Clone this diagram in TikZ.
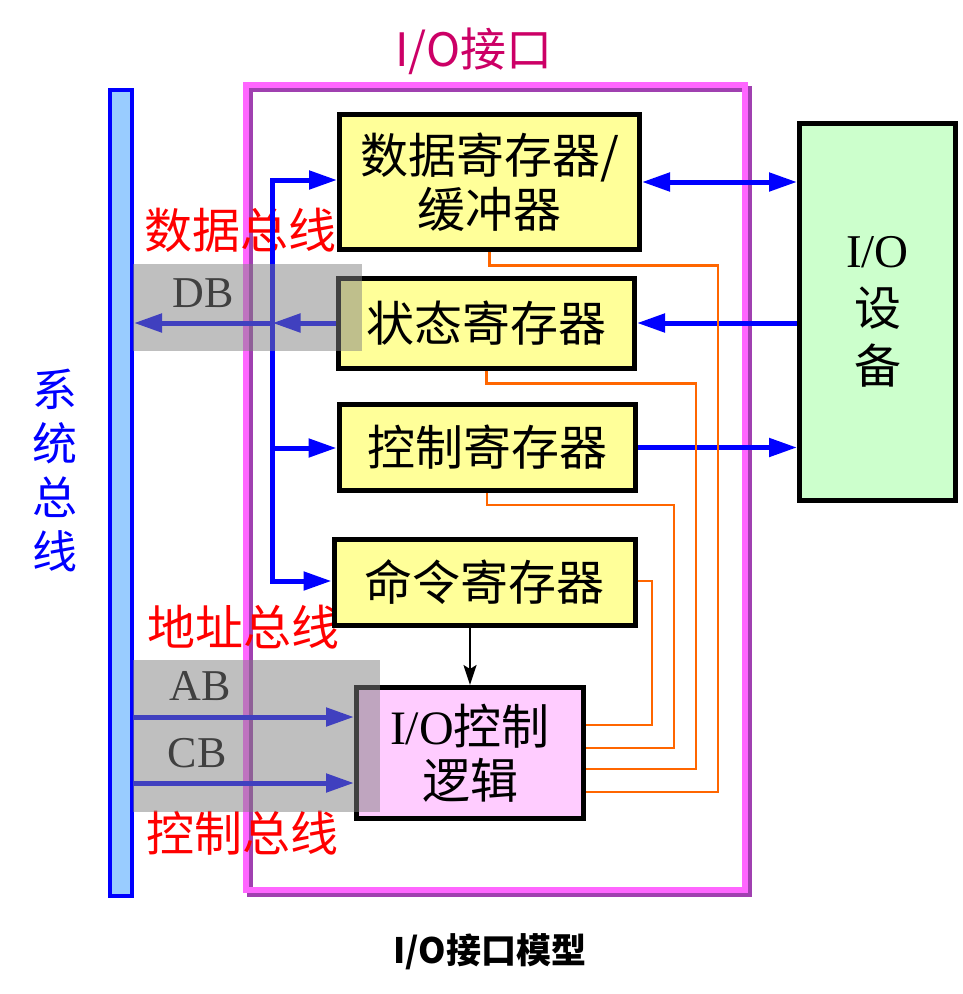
\documentclass[tikz,border=0pt]{standalone}
\usepackage{color}
\usepackage{fontspec}
\setmainfont{Liberation Serif}
\newfontfamily\zhfont{Noto Sans CJK SC}
\usepackage{tikz}
\usetikzlibrary{arrows.meta,positioning}
\definecolor{busblue}{HTML}{0000FF}
\definecolor{busfill}{HTML}{99CCFF}
\definecolor{regyellow}{HTML}{FFFF99}
\definecolor{logicpink}{HTML}{FFCCFF}
\definecolor{devgreen}{HTML}{CCFFCC}
\definecolor{framepink}{HTML}{FF66FF}
\definecolor{frameshade}{HTML}{A040B0}
\definecolor{titlered}{HTML}{CC0066}
\definecolor{sigorange}{HTML}{FF6600}
\tikzset
{
    regnode/.style   = {draw=black, line width=5pt, fill=regyellow, align=center, inner sep=0pt, font=\zhfont\fontsize{48}{54}\selectfont},
    devnode/.style   = {draw=black, line width=5pt, fill=devgreen, align=center, inner sep=0pt, font=\zhfont\fontsize{47}{58}\selectfont},
    busnode/.style   = {draw=busblue, line width=4pt, fill=busfill, inner sep=0pt},
    framenode/.style = {draw=framepink, line width=5.5pt, inner sep=0pt, minimum width=499pt, minimum height=805pt},
    shadenode/.style = {draw=frameshade, line width=5.5pt, inner sep=0pt, minimum width=499pt, minimum height=805pt},
    grayband/.style  = {fill=gray, fill opacity=0.5, inner sep=0pt},
    buslabel/.style  = {text=red, inner sep=0pt, font=\zhfont\fontsize{48}{48}\selectfont},
    busname/.style   = {inner sep=0pt, font=\fontsize{44}{44}\selectfont},
    datapath/.style  = {draw=busblue, line width=5pt, -{Triangle[length=28pt,width=18pt]}},
    cmdpath/.style   = {draw=black, line width=2pt, -{Stealth[length=20pt,width=13pt,inset=4pt]}},
    sigline/.style   = {draw=sigorange, line width=2.5pt}
}
\begin{document}
\begin{tikzpicture}[x=1pt,y=-1pt]
    \useasboundingbox (0,0) rectangle (963,994);
    \node [shadenode] (ifshade) at (499.5,491.5) {};
    \node [framenode] (iface) at (495.5,487.5) {};
    \node [text=titlered, font=\zhfont\fontsize{46}{46}\selectfont] (title) at (474,51) {I/O接口};
    \node [font=\zhfont\bfseries\fontsize{35}{35}\selectfont] (caption) at (490,952) {I/O接口模型};
    \node [busnode, minimum width=22pt, minimum height=806pt] (sysbus) at (121,493) {};
    \node [text=busblue, align=center, font=\zhfont\fontsize{45}{54}\selectfont] (busword) at (55,470) {系\\统\\总\\线};
    \node [buslabel] (dblabel) at (240,230) {数据总线};
    \node [buslabel] (ablabel) at (243,627) {地址总线};
    \node [buslabel] (cblabel) at (242,833) {控制总线};
    \node [busname] (dbname) at (203,293) {DB};
    \node [busname] (abname) at (200,686) {AB};
    \node [busname] (cbname) at (197,753) {CB};
    \coordinate (t1) at (272.5,180);
    \coordinate (t2) at (272.5,323);
    \coordinate (t3) at (272.5,448);
    \coordinate (t4) at (272.5,581);
    \coordinate (ab) at (133,717);
    \coordinate (cb) at (133,783);
    \node [regnode, minimum width=300pt, minimum height=135pt] (rdata) at (489.5,182) {数据寄存器/\\缓冲器};
    \node [regnode, minimum width=296pt, minimum height=90pt] (rstat) at (486.5,323) {状态寄存器};
    \node [regnode, minimum width=296pt, minimum height=86pt] (rctrl) at (487,447.5) {控制寄存器};
    \node [regnode, minimum width=301pt, minimum height=86pt] (rcmd) at (484.5,582.5) {命令寄存器};
    \node [regnode, fill=logicpink, minimum width=227pt, minimum height=131pt] (rlogic) at (470,753) {{\rmfamily I/O}控制\\逻辑};
    \node [devnode, minimum width=156pt, minimum height=377pt] (iodev) at (877.5,312) {{\rmfamily I/O}\\设\\备};
    \draw [datapath, {Triangle[length=28pt,width=18pt]}-{Triangle[length=28pt,width=18pt]}] (t1 -| rdata.west) -- (t1) -- (t4) -- (t4 -| rcmd.west);
    \draw [datapath] (t3) -- (t3 -| rctrl.west);
    \draw [datapath] (rstat.west) -- (t2);
    \draw [datapath] (t2) -- (t2 -| sysbus.east);
    \draw [datapath, {Triangle[length=28pt,width=18pt]}-{Triangle[length=28pt,width=18pt]}] (rdata.east) -- (rdata.east -| iodev.west);
    \draw [datapath] (iodev.west |- rstat.east) -- (rstat.east);
    \draw [datapath] (rctrl.east) -- (rctrl.east -| iodev.west);
    \draw [datapath] (ab) -- (ab -| rlogic.west);
    \draw [datapath] (cb) -- (cb -| rlogic.west);
    \draw [cmdpath] (rlogic.north |- rcmd.south) -- (rlogic.north);
    \draw [sigline] (rdata.south) -- ++(0,13.5) -| (718,792) -- (rlogic.east |- 718,792);
    \draw [sigline] (rstat.south) -- ++(0,13) -| (696,769) -- (rlogic.east |- 696,769);
    \draw [sigline] (rctrl.south) -- ++(0,12) -| (674,748) -- (rlogic.east |- 674,748);
    \draw [sigline] (rcmd.east |- t4) -| (652,725) -- (rlogic.east |- 652,725);
    \node [grayband, minimum width=229pt, minimum height=87pt] (dbband) at (247.5,307.5) {};
    \node [grayband, minimum width=247pt, minimum height=152pt] (abband) at (256.5,736) {};
\end{tikzpicture}
\end{document}
